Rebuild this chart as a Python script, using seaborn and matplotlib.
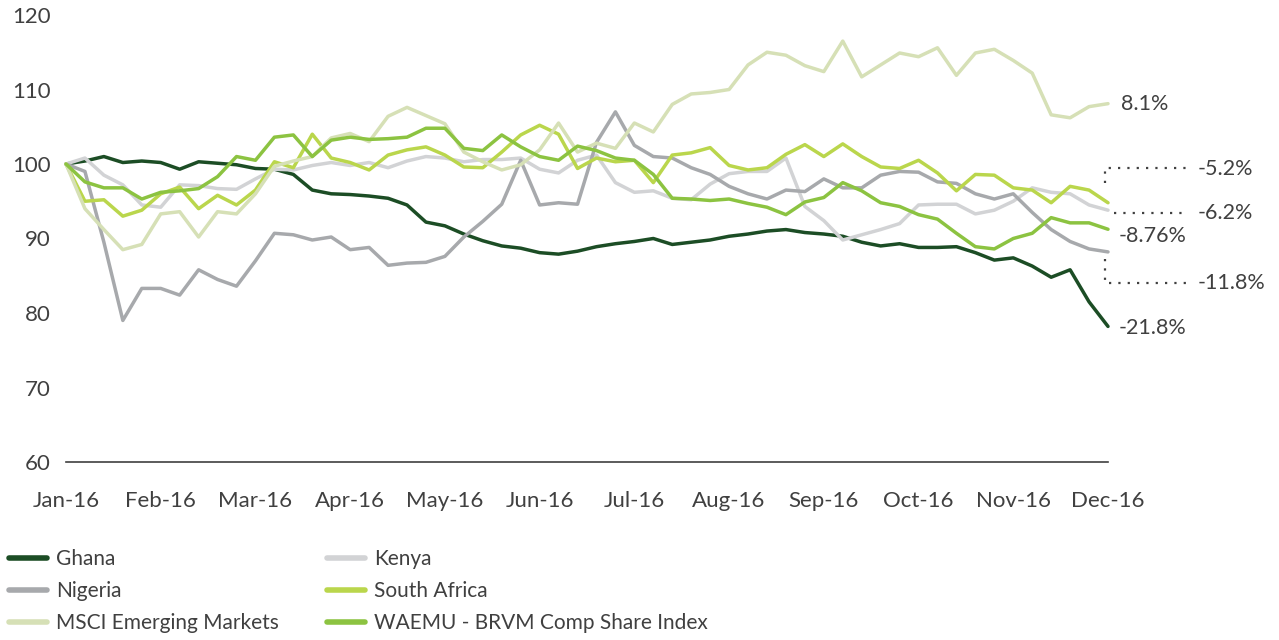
import numpy as np
import pandas as pd
import matplotlib
matplotlib.use("Agg")
import matplotlib.pyplot as plt
from matplotlib.lines import Line2D
import seaborn as sns

# ---------------- data ----------------
month_labels = ["Jan-16", "Feb-16", "Mar-16", "Apr-16", "May-16", "Jun-16",
                "Jul-16", "Aug-16", "Sep-16", "Oct-16", "Nov-16", "Dec-16"]
step_months = 0.2   # spacing of the sampled readings, in months

ghana = [100, 100.4, 101.0, 100.2, 100.4, 100.2, 99.3, 100.3, 100.1, 99.9,
         99.4, 99.3, 98.6, 96.5, 96.0, 95.9, 95.7, 95.4, 94.5, 92.2,
         91.7, 90.6, 89.7, 89.0, 88.7, 88.1, 87.9, 88.3, 88.9, 89.3,
         89.6, 90.0, 89.2, 89.5, 89.8, 90.3, 90.6, 91.0, 91.2, 90.8,
         90.6, 90.3, 89.5, 89.0, 89.3, 88.8, 88.8, 88.9, 88.1, 87.1,
         87.4, 86.3, 84.8, 85.8, 81.5, 78.2]
kenya = [100, 100.8, 98.5, 97.2, 94.5, 94.2, 97.2, 97.1, 96.7, 96.6,
         98.0, 99.3, 99.2, 99.8, 100.2, 99.8, 100.2, 99.5, 100.4, 101.0,
         100.8, 100.3, 100.6, 100.6, 100.8, 99.3, 98.8, 100.5, 101.2, 97.5,
         96.2, 96.4, 95.4, 95.2, 97.3, 98.7, 99.0, 99.0, 100.8, 94.3,
         92.4, 89.8, 90.5, 91.2, 92.0, 94.5, 94.6, 94.6, 93.3, 93.8,
         95.0, 96.8, 96.2, 96.0, 94.5, 93.8]
nigeria = [100, 99.0, 89.5, 79.0, 83.3, 83.3, 82.4, 85.8, 84.5, 83.6,
           87.0, 90.7, 90.5, 89.8, 90.2, 88.5, 88.8, 86.4, 86.7, 86.8,
           87.6, 90.2, 92.3, 94.6, 100.5, 94.5, 94.8, 94.6, 102.9, 107.0,
           102.5, 101.0, 100.8, 99.5, 98.6, 97.0, 96.0, 95.3, 96.5, 96.3,
           98.0, 96.8, 96.8, 98.5, 99.0, 98.9, 97.6, 97.4, 96.0, 95.3,
           96.0, 93.5, 91.2, 89.6, 88.6, 88.2]
south_africa = [100, 95.0, 95.2, 93.0, 93.8, 96.0, 96.9, 94.0, 95.8, 94.5,
                96.5, 100.3, 99.5, 104.0, 100.8, 100.2, 99.2, 101.2, 101.9, 102.3,
                101.2, 99.6, 99.5, 101.6, 103.9, 105.2, 104.0, 99.4, 100.8, 100.3,
                100.5, 97.5, 101.2, 101.5, 102.2, 99.8, 99.2, 99.5, 101.3, 102.6,
                101.0, 102.7, 101.0, 99.6, 99.4, 100.5, 98.8, 96.4, 98.6, 98.5,
                96.8, 96.5, 94.8, 97.0, 96.5, 94.8]
msci = [100, 94.0, 91.2, 88.5, 89.2, 93.3, 93.6, 90.2, 93.6, 93.3,
        96.0, 99.7, 100.4, 101.0, 103.5, 104.1, 103.0, 106.4, 107.6, 106.5,
        105.4, 101.6, 100.3, 99.2, 99.9, 101.9, 105.5, 101.6, 102.8, 102.1,
        105.5, 104.3, 108.0, 109.4, 109.6, 110.0, 113.3, 115.0, 114.6, 113.2,
        112.4, 116.5, 111.7, 113.3, 114.9, 114.4, 115.6, 111.9, 114.9, 115.4,
        113.9, 112.2, 106.6, 106.2, 107.7, 108.1]
waemu = [100, 97.6, 96.8, 96.8, 95.3, 96.2, 96.4, 96.7, 98.3, 101.0,
         100.5, 103.6, 103.9, 101.0, 103.2, 103.6, 103.3, 103.4, 103.6, 104.8,
         104.8, 102.1, 101.8, 103.9, 102.3, 101.0, 100.5, 102.4, 101.8, 100.8,
         100.5, 98.6, 95.4, 95.3, 95.1, 95.3, 94.7, 94.2, 93.2, 94.9,
         95.5, 97.5, 96.4, 94.8, 94.3, 93.2, 92.6, 90.7, 88.9, 88.6,
         90.0, 90.7, 92.8, 92.1, 92.1, 91.24]

series_names = ["Ghana", "Kenya", "Nigeria", "South Africa",
                "MSCI Emerging Markets", "WAEMU - BRVM Comp Share Index"]
series_values = [ghana, kenya, nigeria, south_africa, msci, waemu]
series_colors = ["#1c4d25", "#d2d3d5", "#a7a9ac", "#bad64c", "#d6e0b6", "#8cc341"]
end_labels = ["-21.8%", "-6.2%", "-11.8%", "-5.2%", "8.1%", "-8.76%"]

# ---------------- build long frame ----------------
frames = []
for name, vals in zip(series_names, series_values):
    t = np.arange(len(vals)) * step_months
    frames.append(pd.DataFrame({"t": t, "value": vals, "series": name}))
df = pd.concat(frames, ignore_index=True)

# ---------------- figure ----------------
W, H = 1279, 640
sns.set_style("white")
plt.rcParams["font.family"] = ["Lato", "DejaVu Sans"]
text_color = "#404040"

fig = plt.figure(figsize=(W / 100, H / 100), dpi=100)
ax = fig.add_axes([66 / W, 1 - 462 / H, (1108 - 66) / W, (462 - 15) / H])

palette = dict(zip(series_names, series_colors))
sns.lineplot(data=df, x="t", y="value", hue="series", hue_order=series_names,
             palette=palette, linewidth=2.5, legend=False, ax=ax,
             estimator=None, sort=False)
for line in ax.lines:
    line.set_clip_on(False)

ax.set_xlim(0, 11)
ax.set_ylim(60, 120)
ax.set_xticks(range(len(month_labels)))
ax.set_xticklabels(month_labels)
ax.set_yticks(range(60, 121, 10))
ax.set_xlabel("")
ax.set_ylabel("")
ax.tick_params(axis="x", length=0, pad=21, labelsize=16, labelcolor=text_color)
ax.tick_params(axis="y", length=0, pad=11, labelsize=16, labelcolor=text_color)
sns.despine(ax=ax, left=True)
ax.spines["bottom"].set_color("#404040")
ax.spines["bottom"].set_linewidth(1.2)
ax.grid(False)

# ---------------- end labels with dotted leaders ----------------
def fx(px):
    return px / W

def fy(py):
    return 1 - py / H

label_pos = {"8.1%": (1121, 104), "-5.2%": (1198, 169), "-6.2%": (1198, 213),
             "-8.76%": (1119, 236), "-11.8%": (1198, 283), "-21.8%": (1119, 328)}
for lab in end_labels:
    x, y = label_pos[lab]
    fig.text(fx(x), fy(y), lab, ha="left", va="center", fontsize=15.5, color=text_color)

dot_style = dict(transform=fig.transFigure, color="#404040", linewidth=1.6,
                 linestyle=(0, (1, 3.2)))
fig.add_artist(Line2D([fx(1105), fx(1105), fx(1188)], [fy(183), fy(168), fy(168)], **dot_style))
fig.add_artist(Line2D([fx(1114), fx(1188)], [fy(213), fy(213)], **dot_style))
fig.add_artist(Line2D([fx(1105), fx(1105), fx(1188)], [fy(259), fy(283), fy(283)], **dot_style))

# ---------------- legend ----------------
handles = [Line2D([0], [0], color=c, linewidth=4) for c in series_colors]
order_left = [0, 2, 4]
order_right = [1, 3, 5]
leg_kw = dict(loc="upper left", frameon=False, fontsize=15, handlelength=1.8,
              handletextpad=0.45, labelspacing=0.58, borderpad=0, borderaxespad=0,
              labelcolor=text_color)
fig.legend([handles[i] for i in order_left], [series_names[i] for i in order_left],
           bbox_to_anchor=(fx(9), fy(549)), **leg_kw)
fig.legend([handles[i] for i in order_right], [series_names[i] for i in order_right],
           bbox_to_anchor=(fx(327), fy(549)), **leg_kw)

fig.savefig("out.png", dpi=100, facecolor="white")
